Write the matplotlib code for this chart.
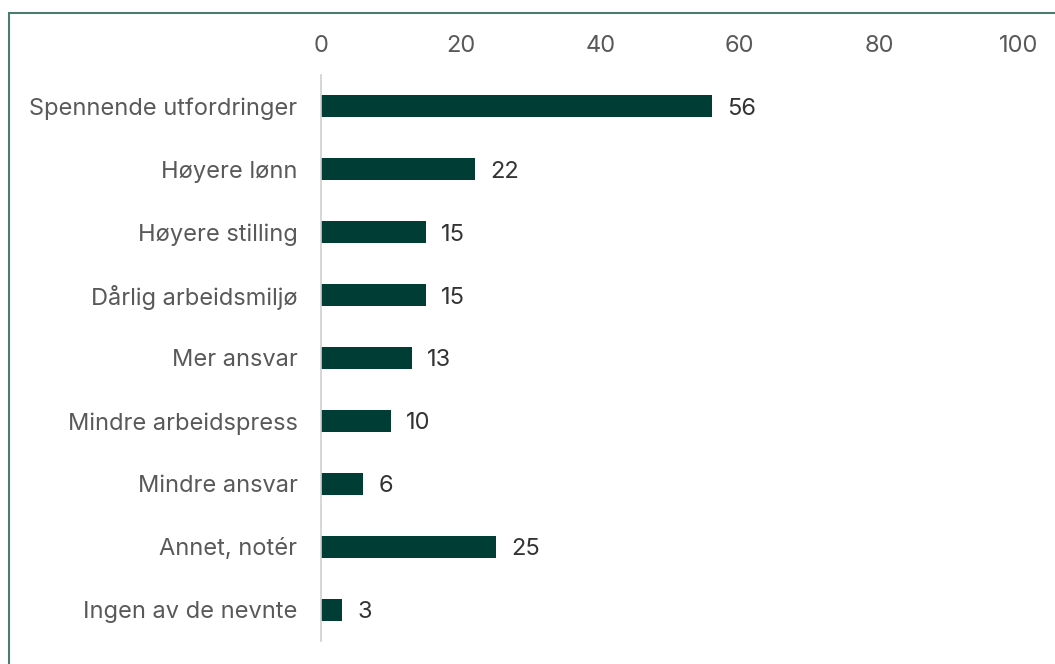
import matplotlib.pyplot as plt
from matplotlib.patches import Rectangle

plt.rcParams["font.family"] = ["Inter", "DejaVu Sans"]

# --- data ---
categories = [
    "Spennende utfordringer",
    "Høyere lønn",
    "Høyere stilling",
    "Dårlig arbeidsmiljø",
    "Mer ansvar",
    "Mindre arbeidspress",
    "Mindre ansvar",
    "Annet, notér",
    "Ingen av de nevnte",
]
values = [56, 22, 15, 15, 13, 10, 6, 25, 3]
xticks = [0, 20, 40, 60, 80, 100]

C_BAR = "#003d35"
C_TEXT = "#595959"
C_LABEL = "#333333"
C_FRAME = "#4d7b72"
FS = 17

W, H = 1055, 664
fig = plt.figure(figsize=(W / 100, H / 100), dpi=100)
ax = fig.add_axes([321 / W, 23 / H, (1019 - 321) / W, (641 - 75) / H])

pos = list(range(len(categories)))
ax.barh(pos, values, height=0.35, color=C_BAR)
ax.set_ylim(len(categories) - 0.5, -0.5)
ax.set_xlim(0, 100)

ax.set_yticks(pos)
ax.set_yticklabels(categories, va="center_baseline")
ax.set_xticks(xticks)
ax.xaxis.tick_top()
ax.tick_params(axis="y", length=0, pad=17, labelsize=FS, labelcolor=C_TEXT)
ax.tick_params(axis="x", length=0, pad=13, labelsize=FS, labelcolor=C_TEXT)

for side in ["top", "right", "bottom"]:
    ax.spines[side].set_visible(False)
ax.spines["left"].set_color("#d0d0d0")
ax.spines["left"].set_linewidth(1.2)

# --- etichette valori ---
for p, v in zip(pos, values):
    ax.annotate(
        f"{v}",
        xy=(v, p),
        xytext=(11, 0),
        textcoords="offset points",
        va="center_baseline",
        ha="left",
        fontsize=FS,
        color=C_LABEL,
    )

# --- cornice ---
fig.patches.append(
    Rectangle(
        (9 / W, -0.1),
        1.2,
        1.1 - 13 / H,
        transform=fig.transFigure,
        fill=False,
        edgecolor=C_FRAME,
        linewidth=1.5,
    )
)

fig.savefig("out.png", dpi=100)
